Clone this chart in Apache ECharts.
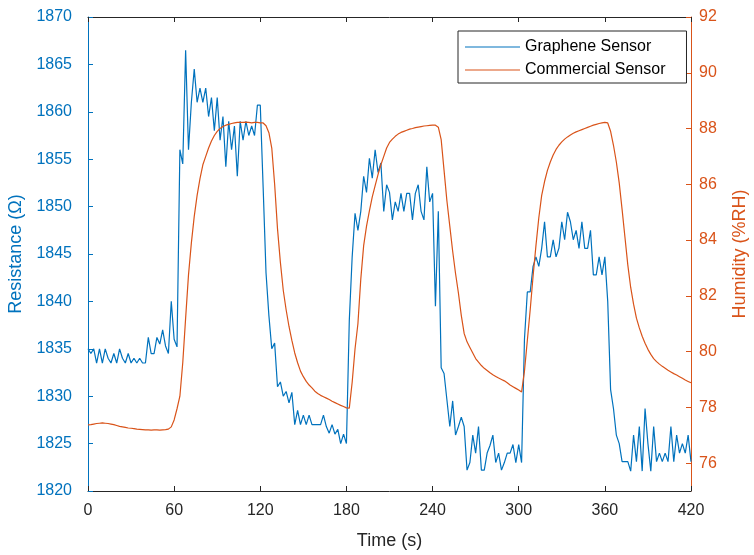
<!DOCTYPE html>
<html>
<head>
<meta charset="utf-8">
<script src="https://cdn.jsdelivr.net/npm/echarts@6/dist/echarts.min.js"></script>
<style>html,body{margin:0;padding:0;background:#fff}#c{width:754px;height:555px}</style>
</head>
<body>
<div id="c"></div>
<script>
// sampling step of the recording (s)
const sampleStep = 2;
const xTicks = [0, 60, 120, 180, 240, 300, 360, 420];
const leftTicks = [1820, 1825, 1830, 1835, 1840, 1845, 1850, 1855, 1860, 1865, 1870];
const rightTicks = [76, 78, 80, 82, 84, 86, 88, 90, 92];
const seriesNames = ['Graphene Sensor', 'Commercial Sensor'];

// Resistance (Ohm), graphene sensor, one value per 2 s
const graphene = [
  1835, 1834.5, 1835, 1833.5, 1835, 1833.5, 1835, 1834, 1833.5, 1834.5,
  1833.5, 1835, 1834, 1833.5, 1834.5, 1833.5, 1834, 1833.5, 1834, 1833.5,
  1833.5, 1836.2, 1834.5, 1834.5, 1836.2, 1835.5, 1837, 1835.3, 1834.5, 1840, 1836, 1835.2,
  1856, 1854.5, 1866.5, 1856, 1861, 1864.5, 1861, 1862.5, 1861, 1862.5,
  1859.5, 1861.5, 1858, 1861.5, 1857, 1859.5, 1854.2, 1859, 1856, 1858.5,
  1853.2, 1859, 1857, 1859, 1857.5, 1858.5, 1857.5, 1860.7, 1860.7,
  1852, 1843, 1838.5, 1835, 1835.6, 1831, 1831.5, 1830, 1830.5, 1829.3,
  1830.4, 1827, 1828.5, 1827, 1828, 1827, 1828, 1827, 1827, 1827,
  1827, 1828, 1826.8, 1826.1, 1827, 1826, 1826.5, 1825, 1826, 1825,
  1838, 1844.7, 1849.3, 1847.5, 1849.5, 1853.2, 1851.5, 1855.1, 1853, 1856,
  1853.6, 1854.6, 1849.5, 1852.3, 1851.5, 1848.6, 1850.5, 1849.5, 1851.4, 1849.5,
  1851.4, 1851.4, 1848.6, 1851.4, 1852.3, 1849.5, 1848.6, 1854.2, 1850.5, 1851.4,
  1839.5, 1849.5, 1833, 1832.4, 1829.6, 1826.8, 1829.5, 1825.9, 1826.8, 1827.8,
  1826.8, 1822.2, 1823, 1825.9, 1824, 1826.8, 1822.2, 1822.2, 1824, 1824.8,
  1825.9, 1823, 1824, 1822.2, 1823, 1824, 1824, 1824.9, 1823, 1824.9, 1823,
  1836, 1841, 1841, 1843.7, 1844.7, 1843.7, 1845.6, 1848.4, 1844.7, 1844.7,
  1846.5, 1844.7, 1845.6, 1848.4, 1846.5, 1849.4, 1848.4, 1846.5, 1847.5, 1845.6,
  1848.4, 1845.6, 1845.6, 1847.5, 1842.8, 1842.8, 1844.7, 1842.8, 1844.7, 1840,
  1830.7, 1828.7, 1825.9, 1825, 1823.1, 1823.1, 1823.1, 1822.1, 1825.9, 1823.1,
  1826.8, 1822.1, 1828.7, 1825, 1822.1, 1826.8, 1823.1, 1824, 1823.1, 1824,
  1823.1, 1826.8, 1823.1, 1825.9, 1824, 1825, 1824, 1825.9, 1823.1
];

// Humidity (%RH), commercial sensor, one value per 2 s
const commercial = [
  77.37, 77.38, 77.40, 77.42, 77.43, 77.44, 77.43, 77.42, 77.40, 77.38,
  77.35, 77.32, 77.30, 77.28, 77.26, 77.25, 77.24, 77.22, 77.21, 77.20,
  77.19, 77.19, 77.18, 77.19, 77.19, 77.18, 77.19, 77.20, 77.22, 77.30,
  77.55, 77.95, 78.4, 79.6, 81.2, 82.75, 83.9, 84.85, 85.6, 86.2,
  86.7, 87.0, 87.3, 87.55, 87.75, 87.9, 88.0, 88.07, 88.12, 88.15,
  88.18, 88.2, 88.22, 88.22, 88.22, 88.23, 88.22, 88.2, 88.22, 88.22, 88.2,
  88.2, 88.1, 87.85, 87.3, 86.0, 84.4, 83.2, 82.2, 81.5, 80.9,
  80.4, 79.95, 79.6, 79.3, 79.1, 78.93, 78.8, 78.7, 78.58, 78.5,
  78.43, 78.38, 78.33, 78.28, 78.22, 78.17, 78.12, 78.07, 78.03, 77.98,
  77.97, 78.9, 80.1, 81.0, 82.6, 83.8, 84.5, 85.05, 85.55, 85.95,
  86.35, 86.7, 87.0, 87.3, 87.5, 87.62, 87.72, 87.8, 87.86, 87.9,
  87.94, 87.98, 88.0, 88.03, 88.05, 88.07, 88.09, 88.1, 88.11, 88.12,
  88.12, 88.05, 87.6, 86.5, 85.4, 84.5, 83.6, 82.8, 82.1, 81.3,
  80.65, 80.35, 80.15, 79.95, 79.75, 79.62, 79.5, 79.4, 79.32, 79.24,
  79.17, 79.11, 79.05, 79.0, 78.95, 78.88, 78.8, 78.74, 78.68, 78.62,
  78.55, 79.3, 80.4, 81.5, 82.7, 83.8, 84.8, 85.6, 86.1, 86.5,
  86.8, 87.05, 87.25, 87.4, 87.52, 87.62, 87.7, 87.77, 87.83, 87.88,
  87.92, 87.96, 88.0, 88.04, 88.08, 88.12, 88.15, 88.18, 88.2, 88.22,
  88.2, 87.9, 87.4, 86.8, 86.05, 85.1, 84.1, 83.1, 82.3, 81.7,
  81.2, 80.85, 80.55, 80.3, 80.08, 79.9, 79.75, 79.64, 79.55, 79.47,
  79.4, 79.33, 79.27, 79.21, 79.16, 79.1, 79.04, 78.98, 78.93, 78.88
];

const BLUE = '#0072BD', ORANGE = '#D95319', DARK = '#262626';
const FONT = '"Liberation Sans", Arial, Helvetica, sans-serif';
const time = graphene.map((_, i) => i * sampleStep);
const gData = graphene.map((v, i) => [time[i], v]);
const cData = commercial.map((v, i) => [i * sampleStep, v]);
const plain = v => String(v);

const chart = echarts.init(document.getElementById('c'), null, {renderer: 'canvas'});
chart.setOption({
  animation: false,
  backgroundColor: '#fff',
  grid: {left: 88, right: 63, top: 17, bottom: 64, containLabel: false, outerBoundsMode: 'none'},
  legend: {
    left: 458, top: 31, orient: 'vertical',
    data: seriesNames,
    icon: 'rect',
    itemWidth: 55, itemHeight: 1.2, itemGap: 7,
    padding: [8, 21, 5, 7],
    borderColor: DARK, borderWidth: 1, backgroundColor: '#fff',
    textStyle: {fontFamily: FONT, fontSize: 16, color: '#000', lineHeight: 16}
  },
  xAxis: [{
    type: 'value', min: xTicks[0], max: xTicks[xTicks.length - 1], interval: 60,
    name: 'Time (s)', nameLocation: 'middle', nameGap: 41,
    nameTextStyle: {fontFamily: FONT, fontSize: 18, color: DARK},
    axisLine: {show: true, onZero: false, lineStyle: {color: DARK, width: 1}},
    axisTick: {show: true, inside: true, length: 5, lineStyle: {color: DARK}},
    axisLabel: {fontFamily: FONT, fontSize: 16, color: DARK, margin: 12, formatter: plain},
    splitLine: {show: false}
  }, {
    type: 'value', position: 'top', min: xTicks[0], max: xTicks[xTicks.length - 1], interval: 60,
    axisLine: {show: true, onZero: false, lineStyle: {color: DARK, width: 1}},
    axisTick: {show: true, inside: true, length: 5, lineStyle: {color: DARK}},
    axisLabel: {show: false}, splitLine: {show: false}
  }],
  yAxis: [{
    type: 'value', position: 'left', min: leftTicks[0], max: leftTicks[leftTicks.length - 1], interval: 5,
    name: 'Resistance (\u03A9)', nameLocation: 'middle', nameGap: 48,
    nameTextStyle: {fontFamily: FONT, fontSize: 18, color: BLUE},
    axisLine: {show: true, onZero: false, lineStyle: {color: BLUE, width: 1}},
    axisTick: {show: true, inside: true, length: 5, lineStyle: {color: BLUE}},
    axisLabel: {fontFamily: FONT, fontSize: 16, color: BLUE, margin: 16, formatter: plain},
    splitLine: {show: false}
  }, {
    type: 'value', position: 'right', min: 75, max: rightTicks[rightTicks.length - 1],
    name: 'Humidity (%RH)', nameLocation: 'middle', nameGap: 40,
    nameTextStyle: {fontFamily: FONT, fontSize: 18, color: ORANGE},
    axisLine: {show: true, onZero: false, lineStyle: {color: ORANGE, width: 1}},
    axisTick: {show: true, inside: true, length: 5, lineStyle: {color: ORANGE}, customValues: rightTicks},
    axisLabel: {fontFamily: FONT, fontSize: 16, color: ORANGE, margin: 8, customValues: rightTicks, formatter: plain},
    splitLine: {show: false}
  }],
  series: [{
    name: seriesNames[0], type: 'line', xAxisIndex: 0, yAxisIndex: 0,
    data: gData, symbol: 'none', showSymbol: false,
    lineStyle: {color: BLUE, width: 1.2}, itemStyle: {color: BLUE}
  }, {
    name: seriesNames[1], type: 'line', xAxisIndex: 0, yAxisIndex: 1,
    data: cData, symbol: 'none', showSymbol: false, smooth: false,
    lineStyle: {color: ORANGE, width: 1.2}, itemStyle: {color: ORANGE}
  }]
});
</script>
</body>
</html>
